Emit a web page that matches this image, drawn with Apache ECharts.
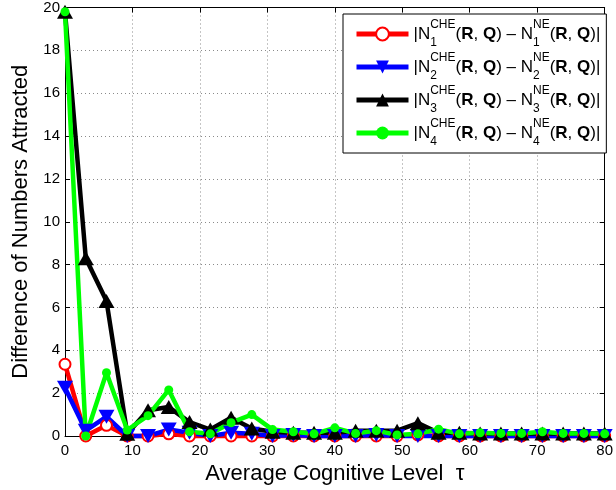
<!DOCTYPE html>
<html>
<head>
<meta charset="utf-8">
<script src="https://cdn.jsdelivr.net/npm/echarts@6/dist/echarts.min.js"></script>
<style>html,body{margin:0;padding:0;background:#fff}#c{width:616px;height:490px}</style>
</head>
<body>
<div id="c"></div>
<script>
var tau = [0,3.08,6.15,9.23,12.31,15.38,18.46,21.54,24.62,27.69,30.77,33.85,36.92,40,43.08,46.15,49.23,52.31,55.38,58.46,61.54,64.62,67.69,70.77,73.85,76.92,80];
var n1 = [3.35,0,0.5,0,0,0.1,0,0,0,0,0,0,0,0,0,0,0,0.05,0,0,0,0,0,0,0,0,0];
var n2 = [2.25,0.25,0.9,0,0,0.3,0.15,0,0.15,0.1,0,0.05,0,0,0,0.05,0,0,0,0,0,0,0,0,0,0,0];
var n3 = [19.8,8.3,6.3,0.1,1.2,1.35,0.65,0.3,0.85,0.35,0.2,0.15,0.15,0.15,0.25,0.25,0.25,0.6,0.15,0.15,0.12,0.12,0.12,0.12,0.12,0.12,0.12];
var n4 = [19.8,0,2.95,0.28,0.95,2.15,0.2,0.1,0.62,1.0,0.3,0.2,0.1,0.38,0.12,0.25,0.05,0.1,0.32,0.1,0.15,0.12,0.12,0.2,0.12,0.12,0.1];
var xTitle = 'Average Cognitive Level  \u03c4';
var yTitle = 'Difference of Numbers Attracted';
var names = ['N1','N2','N3','N4'];

function pairs(v){ return tau.map(function(t,i){ return [t, v[i]]; }); }
var FONT = 'Liberation Sans, Arial, sans-serif';

function legendText(k){
  return '|N{sub|' + k + '}{sup|CHE}{n|(}{b|R}{n|, }{b|Q}{n|) \u2013 N}{sub|' + k + '}{sup|NE}{n|(}{b|R}{n|, }{b|Q}{n|)|}';
}

var chart = echarts.init(document.getElementById('c'), null, {renderer:'canvas'});
var gridStyle = {show:true, lineStyle:{color:'#8a8a8a', type:[1,3], width:1}};
chart.setOption({
  animation:false,
  backgroundColor:'#fff',
  textStyle:{fontFamily:FONT},
  grid:{left:65, right:4, top:6, bottom:54, show:false},
  legend:{
    orient:'vertical', left:343, top:14,
    padding:[5,6,5,11], itemGap:3, itemWidth:52, itemHeight:16,
    borderColor:'#000', borderWidth:1, backgroundColor:'#fff',
    lineStyle:{width:5},
    data:names,
    formatter:function(name){ return legendText(name.charAt(1)); },
    textStyle:{
      fontFamily:FONT, fontSize:17, color:'#000', lineHeight:30,
      rich:{
        n:{fontFamily:FONT, fontSize:17, color:'#000', lineHeight:30},
        b:{fontFamily:FONT, fontSize:17, color:'#000', fontWeight:'bold', lineHeight:30},
        sup:{fontFamily:FONT, fontSize:12, color:'#000', lineHeight:20, verticalAlign:'top'},
        sub:{fontFamily:FONT, fontSize:12, color:'#000', lineHeight:16, verticalAlign:'bottom', width:0}
      }
    }
  },
  xAxis:[{
    type:'value', min:0, max:80, interval:10, position:'bottom',
    name:xTitle, nameLocation:'middle', nameGap:25,
    nameTextStyle:{fontFamily:FONT, fontSize:22, color:'#000'},
    axisLine:{show:true, onZero:false, lineStyle:{color:'#000', width:1}},
    axisTick:{show:true, inside:true, length:5, lineStyle:{color:'#000'}},
    axisLabel:{fontFamily:FONT, fontSize:15, color:'#000', margin:7},
    splitLine:gridStyle
  },{
    type:'value', min:0, max:80, interval:10, position:'top',
    axisLine:{show:true, onZero:false, lineStyle:{color:'#000', width:1}},
    axisTick:{show:true, inside:true, length:5, lineStyle:{color:'#000'}},
    axisLabel:{show:false}, splitLine:{show:false}
  }],
  yAxis:[{
    type:'value', min:0, max:20, interval:2, position:'left',
    name:yTitle, nameLocation:'middle', nameGap:32,
    nameTextStyle:{fontFamily:FONT, fontSize:22, color:'#000'},
    axisLine:{show:true, onZero:false, lineStyle:{color:'#000', width:1}},
    axisTick:{show:true, inside:true, length:5, lineStyle:{color:'#000'}},
    axisLabel:{fontFamily:FONT, fontSize:15, color:'#000', margin:5},
    splitLine:gridStyle
  },{
    type:'value', min:0, max:20, interval:2, position:'right',
    axisLine:{show:true, onZero:false, lineStyle:{color:'#000', width:1}},
    axisTick:{show:true, inside:true, length:5, lineStyle:{color:'#000'}},
    axisLabel:{show:false}, splitLine:{show:false}
  }],
  series:[
    {name:'N1', type:'line', data:pairs(n1), clip:false, symbol:'emptyCircle', symbolSize:11,
     lineStyle:{color:'#ff0000', width:4.5}, itemStyle:{color:'#ff0000', borderColor:'#ff0000', borderWidth:3.5}},
    {name:'N2', type:'line', data:pairs(n2), clip:false, symbol:'triangle', symbolRotate:180, symbolSize:[16,14],
     lineStyle:{color:'#0000ff', width:4.5}, itemStyle:{color:'#0000ff'}},
    {name:'N3', type:'line', data:pairs(n3), clip:false, symbol:'triangle', symbolSize:[16,14],
     lineStyle:{color:'#000000', width:4.5}, itemStyle:{color:'#000000'}},
    {name:'N4', type:'line', data:pairs(n4), clip:false, symbol:'circle', symbolSize:9,
     lineStyle:{color:'#00ff00', width:4.5}, itemStyle:{color:'#00ff00'}}
  ]
});
</script>
</body>
</html>
